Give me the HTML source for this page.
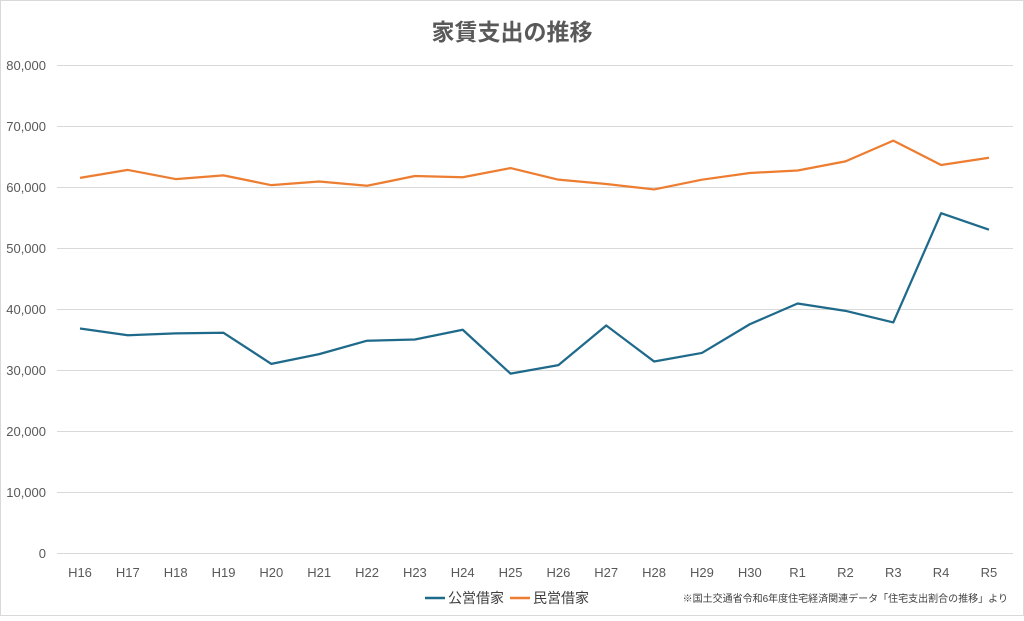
<!DOCTYPE html>
<html><head><meta charset="utf-8"><style>
body{margin:0;background:#fff;}
svg text{font-family:"Liberation Sans","Noto Sans CJK JP",sans-serif;}
</style></head><body>
<svg width="1024" height="616" viewBox="0 0 1024 616" xmlns="http://www.w3.org/2000/svg">
<rect x="0.5" y="0.5" width="1023" height="615" fill="#fff" stroke="#d9d9d9"/>
<text x="512" y="40" text-anchor="middle" font-size="23" font-weight="bold" fill="#595959">家賃支出の推移</text>
<g stroke="#d9d9d9" stroke-width="1">
<line x1="57" x2="1013" y1="65.5" y2="65.5"/><line x1="57" x2="1013" y1="126.5" y2="126.5"/>
<line x1="57" x2="1013" y1="187.5" y2="187.5"/><line x1="57" x2="1013" y1="248.5" y2="248.5"/>
<line x1="57" x2="1013" y1="309.5" y2="309.5"/><line x1="57" x2="1013" y1="370.5" y2="370.5"/>
<line x1="57" x2="1013" y1="431.5" y2="431.5"/><line x1="57" x2="1013" y1="492.5" y2="492.5"/>
<line x1="57" x2="1013" y1="553.5" y2="553.5"/>
</g>
<g font-size="13" fill="#595959" text-anchor="end">
<text x="46" y="70">80,000</text><text x="46" y="131">70,000</text><text x="46" y="192">60,000</text>
<text x="46" y="253">50,000</text><text x="46" y="314">40,000</text><text x="46" y="375">30,000</text>
<text x="46" y="436">20,000</text><text x="46" y="497">10,000</text><text x="46" y="558">0</text>
</g>
<g font-size="13" fill="#595959" text-anchor="middle" id="xl"></g>
<polyline id="o" fill="none" stroke="#ed7d31" stroke-width="2.25" stroke-linejoin="round"/>
<polyline id="b" fill="none" stroke="#1f6a8a" stroke-width="2.25" stroke-linejoin="round"/>
<line x1="425" x2="445" y1="598" y2="598" stroke="#1f6a8a" stroke-width="2.5"/>
<text x="448" y="603" font-size="14" fill="#404040">公営借家</text>
<line x1="510" x2="530" y1="598" y2="598" stroke="#ed7d31" stroke-width="2.5"/>
<text x="533" y="603" font-size="14" fill="#404040">民営借家</text>
<text x="1008" y="602" font-size="10" fill="#404040" text-anchor="end">※国土交通省令和6年度住宅経済関連データ「住宅支出割合の推移」より</text>
<script>
var L=["H16","H17","H18","H19","H20","H21","H22","H23","H24","H25","H26","H27","H28","H29","H30","R1","R2","R3","R4","R5"];
var O=[61500,62800,61300,61900,60300,60900,60200,61800,61600,63100,61200,60500,59600,61200,62300,62700,64200,67600,63600,64800];
var B=[36800,35700,36000,36100,31000,32600,34800,35000,36600,29400,30800,37300,31400,32800,37500,40900,39700,37800,55700,53000];
var xl=document.getElementById("xl"),po="",pb="";
for(var i=0;i<20;i++){var x=80+i*47.84;
var t=document.createElementNS("http://www.w3.org/2000/svg","text");t.setAttribute("x",x);t.setAttribute("y",577);t.textContent=L[i];xl.appendChild(t);
po+=x+","+(553-O[i]*0.0061)+" ";pb+=x+","+(553-B[i]*0.0061)+" ";}
document.getElementById("o").setAttribute("points",po);
document.getElementById("b").setAttribute("points",pb);
</script>
</svg>
</body></html>
